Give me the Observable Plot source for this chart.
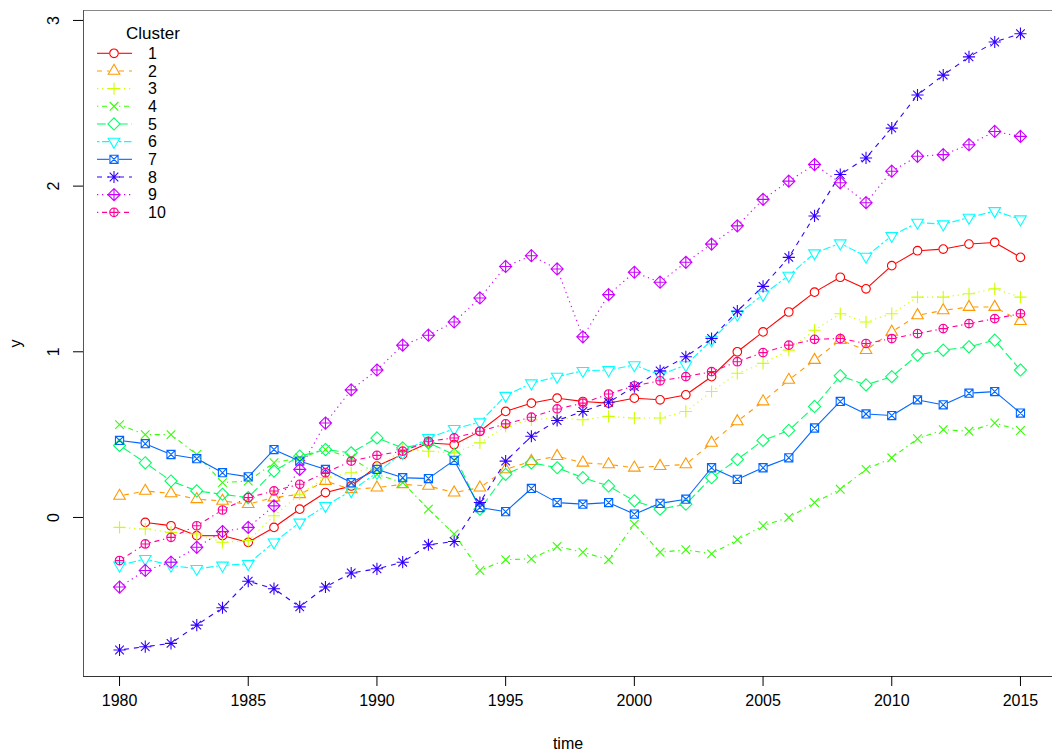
<!DOCTYPE html>
<html><head><meta charset="utf-8">
<script src="https://cdn.jsdelivr.net/npm/d3@7"></script>
<script src="https://cdn.jsdelivr.net/npm/@observablehq/plot@0.6"></script>
<style>
body{margin:0;background:#fff}
svg{font-family:"Liberation Sans",Arial,sans-serif}
</style>
</head><body><div id="chart"></div>
<script>
const years = [1980,1981,1982,1983,1984,1985,1986,1987,1988,1989,1990,1991,1992,1993,1994,1995,1996,1997,1998,1999,2000,2001,2002,2003,2004,2005,2006,2007,2008,2009,2010,2011,2012,2013,2014,2015];
const c1 = [null,-0.03,-0.05,-0.11,-0.11,-0.15,-0.06,0.05,0.15,0.19,0.31,0.38,0.45,0.44,0.52,0.64,0.69,0.72,0.70,0.69,0.72,0.71,0.74,0.85,1.00,1.12,1.24,1.36,1.45,1.38,1.52,1.61,1.62,1.65,1.66,1.57];
const c2 = [0.13,0.16,0.145,0.11,0.10,0.08,0.12,0.14,0.22,0.17,0.18,0.20,0.19,0.15,0.18,0.29,0.34,0.37,0.33,0.32,0.30,0.31,0.32,0.45,0.58,0.70,0.83,0.95,1.07,1.01,1.12,1.22,1.25,1.27,1.27,1.185];
const c3 = [-0.06,-0.07,-0.09,-0.10,-0.15,-0.14,0.01,0.14,0.24,0.27,0.30,0.41,0.40,0.39,0.45,0.55,0.59,0.60,0.59,0.61,0.60,0.60,0.64,0.76,0.87,0.93,1.01,1.13,1.23,1.18,1.23,1.33,1.33,1.35,1.38,1.33];
const c4 = [0.56,0.50,0.50,0.38,0.21,0.22,0.33,0.36,0.41,0.36,0.26,0.21,0.05,-0.10,-0.32,-0.255,-0.25,-0.175,-0.21,-0.255,-0.04,-0.21,-0.195,-0.22,-0.135,-0.05,0.00,0.09,0.17,0.29,0.36,0.475,0.53,0.52,0.57,0.525];
const c5 = [0.435,0.33,0.22,0.16,0.14,0.12,0.28,0.37,0.41,0.39,0.48,0.42,0.45,0.38,0.05,0.26,0.33,0.30,0.24,0.19,0.10,0.05,0.08,0.24,0.35,0.465,0.525,0.67,0.855,0.80,0.85,0.98,1.01,1.03,1.07,0.89];
const c6 = [-0.29,-0.25,-0.29,-0.31,-0.29,-0.28,-0.15,-0.03,0.07,0.16,0.27,0.39,0.48,0.535,0.575,0.735,0.81,0.85,0.885,0.89,0.92,0.86,0.92,1.07,1.225,1.345,1.46,1.595,1.655,1.575,1.70,1.78,1.77,1.81,1.85,1.80];
const c7 = [0.465,0.445,0.38,0.355,0.27,0.245,0.41,0.34,0.29,0.21,0.29,0.24,0.235,0.345,0.06,0.035,0.175,0.09,0.08,0.09,0.02,0.085,0.11,0.30,0.23,0.30,0.36,0.54,0.70,0.625,0.615,0.71,0.68,0.75,0.76,0.63];
const c8 = [-0.80,-0.78,-0.76,-0.65,-0.545,-0.385,-0.43,-0.54,-0.42,-0.335,-0.31,-0.27,-0.165,-0.145,0.09,0.34,0.49,0.585,0.64,0.695,0.79,0.885,0.97,1.08,1.245,1.395,1.57,1.82,2.07,2.17,2.35,2.55,2.67,2.78,2.87,2.92];
const c9 = [-0.42,-0.32,-0.27,-0.18,-0.085,-0.06,0.07,0.29,0.57,0.77,0.89,1.04,1.10,1.18,1.325,1.515,1.58,1.50,1.09,1.345,1.48,1.42,1.54,1.65,1.76,1.92,2.03,2.13,2.02,1.90,2.09,2.18,2.19,2.25,2.33,2.30];
const c10 = [-0.26,-0.16,-0.12,-0.05,0.045,0.12,0.16,0.20,0.27,0.34,0.375,0.40,0.46,0.48,0.52,0.565,0.605,0.655,0.69,0.745,0.795,0.825,0.85,0.88,0.94,0.995,1.04,1.075,1.08,1.05,1.08,1.11,1.14,1.17,1.20,1.23];

const clusterNames = ["1","2","3","4","5","6","7","8","9","10"];
const seriesValues = [c1,c2,c3,c4,c5,c6,c7,c8,c9,c10];
const colors = ["#FF0000","#FF9900","#CCFF00","#33FF00","#00FF66","#00FFFF","#0066FF","#3300FF","#CC00FF","#FF0099"];
const dashes = ["none","5,5","1.25,3.75","1.25,3.75,5,3.75","8.75,3.75","2.5,2.5,7.5,2.5","none","5,5","1.25,3.75","1.25,3.75,5,3.75"];
const xTicks = [1980,1985,1990,1995,2000,2005,2010,2015];
const yTicks = [0,1,2,3];
const xDomain = [1978.6, 2016.4];
const yDomain = [-0.96, 3.06];

// R-like pch symbols
function sym(fn){ return {draw(ctx,size){ const r=Math.sqrt(size/Math.PI); fn(ctx,r); }}; }
const circ=(c,r)=>{c.moveTo(r,0);c.arc(0,0,r,0,2*Math.PI);};
const plus=(c,a)=>{c.moveTo(-a,0);c.lineTo(a,0);c.moveTo(0,-a);c.lineTo(0,a);};
const cross=(c,a)=>{c.moveTo(-a,-a);c.lineTo(a,a);c.moveTo(-a,a);c.lineTo(a,-a);};
const diam=(c,a)=>{c.moveTo(0,-a);c.lineTo(a,0);c.lineTo(0,a);c.lineTo(-a,0);c.closePath();};
const symbols=[
  sym((c,r)=>circ(c,r)),
  sym((c,r)=>{c.moveTo(0,-1.555*r);c.lineTo(1.347*r,0.778*r);c.lineTo(-1.347*r,0.778*r);c.closePath();}),
  sym((c,r)=>plus(c,1.414*r)),
  sym((c,r)=>cross(c,r)),
  sym((c,r)=>diam(c,1.414*r)),
  sym((c,r)=>{c.moveTo(0,1.555*r);c.lineTo(1.347*r,-0.778*r);c.lineTo(-1.347*r,-0.778*r);c.closePath();}),
  sym((c,r)=>{const a=0.95*r;c.rect(-a,-a,2*a,2*a);cross(c,a);}),
  sym((c,r)=>{cross(c,r);plus(c,1.414*r);}),
  sym((c,r)=>{diam(c,1.414*r);plus(c,1.414*r);}),
  sym((c,r)=>{circ(c,r);plus(c,r);})
];

const R = 4.3;
const marks = [
  Plot.ruleY([yDomain[1]], {stroke:"#888", strokeWidth:1}),
  Plot.ruleY([yDomain[0]], {stroke:"#333", strokeWidth:1}),
  Plot.ruleX([xDomain[0]], {stroke:"#555", strokeWidth:1}),
  Plot.axisX({ticks:xTicks, tickSize:10, tickPadding:8, tickFormat:d=>String(d), fontSize:16,
    label:"time", labelAnchor:"center", labelArrow:"none", labelOffset:72}),
  Plot.axisY({ticks:yTicks, tickSize:10, tickPadding:15, tickRotate:-90, tickFormat:d=>String(d), fontSize:16,
    label:"y", labelAnchor:"center", labelArrow:"none", labelOffset:74})
];

seriesValues.forEach((vals,i)=>{
  const pts = years.map((t,j)=>({t, v:vals[j]})).filter(d=>d.v!=null);
  const segs = [];
  for(let j=1;j<years.length;j++){
    if(vals[j-1]!=null && vals[j]!=null) segs.push({x1:years[j-1],y1:vals[j-1],x2:years[j],y2:vals[j]});
  }
  marks.push(Plot.arrow(segs,{x1:"x1",y1:"y1",x2:"x2",y2:"y2",bend:0,headLength:0,inset:4.5,
    stroke:colors[i],strokeWidth:1.1,strokeDasharray:dashes[i],strokeLinecap:"butt"}));
  marks.push(Plot.dot(pts,{x:"t",y:"v",r:R,symbol:symbols[i],stroke:colors[i],fill:"none",strokeWidth:1.1}));
});

const chart = Plot.plot({
  width:1052, height:756,
  marginLeft:83, marginRight:0, marginTop:10, marginBottom:80,
  x:{domain:xDomain, range:[83,1056]},
  y:{domain:yDomain},
  style:{background:"#fff", color:"#000", fontSize:"16px", fontFamily:"'Liberation Sans', Arial, sans-serif"},
  marks
});
document.getElementById("chart").appendChild(chart);

// legend (top-left, inside the box)
const svg = d3.select(chart);
const lg = svg.append("g").attr("font-family","'Liberation Sans', Arial, sans-serif").attr("text-anchor","start");
lg.append("text").attr("x",126).attr("y",33).attr("dy","0.35em").attr("font-size",17).attr("fill","#000").text("Cluster");
clusterNames.forEach((n,i)=>{
  const y = 53.3 + i*17.67;
  const g = lg.append("g");
  [[97,109],[119,132]].forEach(([a,b])=>{
    g.append("line").attr("x1",a).attr("x2",b).attr("y1",y).attr("y2",y)
      .attr("stroke",colors[i]).attr("stroke-width",1.1)
      .attr("stroke-dasharray",dashes[i]==="none"?null:dashes[i]);
  });
  const p = d3.path();
  symbols[i].draw(p, Math.PI*R*R);
  g.append("path").attr("d",p.toString()).attr("transform",`translate(114,${y})`)
    .attr("fill","none").attr("stroke",colors[i]).attr("stroke-width",1.1);
  g.append("text").attr("x",148).attr("y",y).attr("dy","0.35em").attr("font-size",16).attr("fill","#000").text(n);
});
</script>
</body></html>
